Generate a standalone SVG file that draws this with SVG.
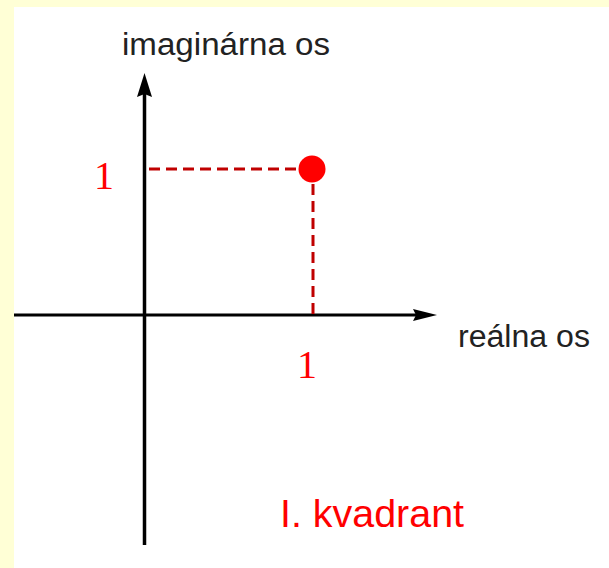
<svg xmlns="http://www.w3.org/2000/svg" width="609" height="568" viewBox="0 0 609 568">
<style>
.axis{stroke:#000;fill:none}
.dash{stroke:#c00000;stroke-width:3;stroke-dasharray:11 6;fill:none}
.lbl{font-family:"Liberation Sans",Arial,sans-serif;font-size:31px;fill:#222}
.num{font-family:"Liberation Serif","Times New Roman",serif;font-size:40px;fill:#ff0000}
.red{font-family:"Liberation Sans",Arial,sans-serif;font-size:38px;fill:#ff0000}
</style>
<rect x="0" y="0" width="609" height="568" fill="#ffffd6"/>
<rect x="14" y="7" width="595" height="561" fill="#ffffff"/>
<g id="axes">
<line class="axis" x1="14" y1="315" x2="418" y2="315" stroke-width="3"/>
<polygon points="437,315 413,309 416,315 413,321" fill="#000"/>
<line class="axis" x1="144.5" y1="92" x2="144.5" y2="545" stroke-width="3.5"/>
<polygon points="144.5,73 137,97 144.5,94 152,97" fill="#000"/>
</g>
<g id="connectors">
<line class="dash" x1="149" y1="169" x2="300" y2="169"/>
<line class="dash" x1="313" y1="184" x2="313" y2="314"/>
</g>
<g id="point">
<circle cx="312" cy="169" r="13.5" fill="#ff0000"/>
</g>
<g id="labels">
<text class="lbl" x="122" y="55" textLength="208" lengthAdjust="spacingAndGlyphs">imaginárna os</text>
<text class="lbl" x="458" y="347" textLength="132" lengthAdjust="spacingAndGlyphs">reálna os</text>
<text class="num" x="94" y="189">1</text>
<text class="num" x="297" y="378">1</text>
<text class="red" x="280" y="527" textLength="184" lengthAdjust="spacingAndGlyphs">I. kvadrant</text>
</g>
</svg>
